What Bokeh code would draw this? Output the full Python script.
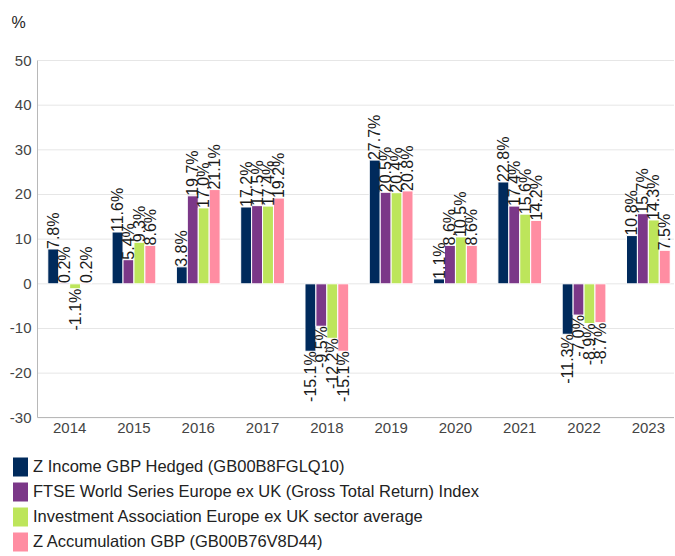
import numpy as np
from bokeh.plotting import figure
from bokeh.models import (ColumnDataSource, Range1d, FixedTicker, Legend, LegendItem, Label)
from bokeh.core.properties import value
from bokeh.embed import file_html
from bokeh.resources import INLINE

years = ["2014", "2015", "2016", "2017", "2018", "2019", "2020", "2021", "2022", "2023"]
z_income = [7.8, 11.6, 3.8, 17.2, -15.1, 27.7, 1.1, 22.8, -11.3, 10.8]
ftse = [0.2, 5.4, 19.7, 17.5, -9.5, 20.5, 8.6, 17.4, -7.0, 15.7]
ia_sector = [-1.1, 9.3, 17.0, 17.4, -12.2, 20.4, 10.5, 15.6, -8.9, 14.3]
z_accum = [0.2, 8.6, 21.1, 19.2, -15.1, 20.8, 8.6, 14.2, -8.7, 7.5]
y_ticks = [-30, -20, -10, 0, 10, 20, 30, 40, 50]
y_tick_labels = ["-30", "-20", "-10", "0", "10", "20", "30", "40", "50"]

series_names = [
    "Z Income GBP Hedged (GB00B8FGLQ10)",
    "FTSE World Series Europe ex UK (Gross Total Return) Index",
    "Investment Association Europe ex UK sector average",
    "Z Accumulation GBP (GB00B76V8D44)",
]
series_values = [z_income, ftse, ia_sector, z_accum]
colors = ["#002A5C", "#7B3888", "#BDE55B", "#FF8DA2"]

FONT = "Liberation Sans"
W, H = 674, 556
PX_X = 64.3            # px per category
PX_Y = 357.3 / 80.0    # px per percent
X0 = -0.5 - 37 / PX_X
X1 = X0 + W / PX_X
Y1 = 50 + 60 / PX_Y
Y0 = Y1 - H / PX_Y

bar_w = 0.17
offsets = [-1.5 * bar_w, -0.5 * bar_w, 0.5 * bar_w, 1.5 * bar_w]

p = figure(width=W, height=H, output_backend="svg", toolbar_location=None,
           x_range=Range1d(X0, X1), y_range=Range1d(Y0, Y1),
           min_border=0)
p.outline_line_color = None
p.xgrid.visible = False
p.ygrid.visible = False

# horizontal grid lines starting at the y axis
p.segment(x0=-0.5, x1=X1, y0=y_ticks, y1=y_ticks, line_color="#e6e6e6", line_width=1)

idx = np.arange(len(years))
renderers = []
for name, vals, col, off in zip(series_names, series_values, colors, offsets):
    xs = idx + off
    src = ColumnDataSource(dict(x=xs, top=np.array(vals)))
    r = p.vbar(x="x", top="top", bottom=0, width=bar_w, source=src,
               fill_color=col, line_color="white", line_width=1)
    renderers.append(r)

for name, vals, col, off in zip(series_names, series_values, colors, offsets):
    xs = idx + off
    vals = np.array(vals)
    pos = vals >= 0
    neg = ~pos
    sp = ColumnDataSource(dict(x=xs[pos], y=vals[pos], t=[f"{v:.1f}%" for v in vals[pos]]))
    sn = ColumnDataSource(dict(x=xs[neg], y=vals[neg], t=[f"{v:.1f}%" for v in vals[neg]]))
    p.text(x="x", y="y", text="t", source=sp, angle=np.pi / 2, text_align="left",
           text_baseline="middle", text_font=value(FONT), text_font_size="16px",
           text_color="#1a1a1a")
    p.text(x="x", y="y", text="t", source=sn, angle=np.pi / 2, text_align="right",
           text_baseline="middle", text_font=value(FONT), text_font_size="16px",
           text_color="#1a1a1a")

# axes drawn at fixed data locations
p.xaxis.ticker = FixedTicker(ticks=list(range(len(years))))
p.xaxis.major_label_overrides = {i: y for i, y in enumerate(years)}
p.xaxis.fixed_location = -30
p.xaxis.bounds = (-0.5, X1)
p.yaxis.ticker = FixedTicker(ticks=y_ticks)
p.yaxis.major_label_overrides = {t: l for t, l in zip(y_ticks, y_tick_labels)}
p.yaxis.fixed_location = -0.5
p.yaxis.bounds = (-30, 50)
for ax in (p.xaxis, p.yaxis):
    ax.axis_line_color = "#b8b8b8"
    ax.major_tick_line_color = None
    ax.minor_tick_line_color = None
    ax.major_tick_out = 0
    ax.major_tick_in = 0
    ax.major_label_text_font = FONT
    ax.major_label_text_font_size = "15px"
    ax.major_label_text_color = "#444444"
p.yaxis.major_label_standoff = 6
p.xaxis.major_label_standoff = 5

# unit label
p.add_layout(Label(x=11, y=H - 22, x_units="screen", y_units="screen", text="%",
                   text_font=FONT, text_font_size="16px", text_color="#222222",
                   text_baseline="alphabetic", text_align="left"))

legend = Legend(items=[LegendItem(label=n, renderers=[r]) for n, r in zip(series_names, renderers)],
                location=(10, 2), orientation="vertical",
                glyph_width=20, glyph_height=25, spacing=0, label_standoff=3,
                label_height=25, padding=0, margin=0,
                label_text_font=FONT, label_text_font_size="16.5px", label_text_color="#222222",
                border_line_color=None, background_fill_alpha=0)
p.add_layout(legend, "center")

open("out.html", "w").write(file_html(p, INLINE))
